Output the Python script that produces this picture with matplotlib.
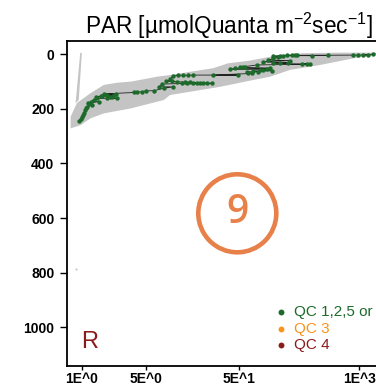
import numpy as np
import matplotlib
matplotlib.use("Agg")
import matplotlib.pyplot as plt
from matplotlib.patches import Circle

plt.rcParams['font.family'] = ['Liberation Sans', 'DejaVu Sans']
plt.rcParams['mathtext.fontset'] = 'custom'
plt.rcParams['mathtext.rm'] = 'Liberation Sans'
plt.rcParams['mathtext.it'] = 'Liberation Sans'

# grey cloud of all profiles (outline of the band)
band_par = [0.76, 0.89, 1.25, 1.74, 2.41, 3.39, 4.72, 6.52, 9.01, 14.8, 26.3, 38.2,
            66.1, 109, 139, 247, 576, 1520, 3000,
            3000, 1520, 857, 378, 179, 109, 71.3, 31.3, 14.8, 9.01, 7.76, 3.39,
            1.74, 1.25, 0.975, 0.76]
band_depth = [229, 179, 143, 113, 105, 101, 92, 83, 77, 65, 52, 34,
              24, 10, 4, -3, -5, -5, -5,
              6, 4, 16, 40, 58, 83, 95, 120, 138, 150, 168, 199,
              217, 235, 260, 272]

# thin dark profile near PAR = 1
spike_par = [0.965, 1.005, 0.93, 0.86]
spike_depth = [-4, -4, 168, 180]

outlier_par = [0.86]
outlier_depth = [786]

# highlighted profile (QC 1,2,5 or 8)
prof_par = [0.935, 1.01, 1.06, 1.10, 1.15, 1.17, 1.29, 1.25, 1.36, 1.42, 1.47, 1.54,
            1.60, 1.74, 1.89, 1.88, 2.14, 2.33, 2.43, 3.68, 3.99, 4.52, 4.92, 6.05,
            7.76, 6.85, 7.43, 8.09, 9.01, 9.78, 11.1, 12.5, 14.2, 16.1, 26.1, 9.40,
            10.6, 12.1, 13.6, 16.1, 19.0, 22.5, 25.4, 9.78, 40.1, 45.4, 51.4, 58.2,
            49.3, 60.8, 68.9, 81.1, 91.9, 109, 78, 91.9, 104, 118, 133, 118, 139,
            165, 186, 211, 306, 463, 864, 977, 1107, 1254, 1420, 118, 139, 171,
            179, 239, 271, 294, 113, 0.98, 1.03, 1.12, 1.2, 1.65, 2.0, 2.25,
            13.0, 15.0, 17.5, 20.5, 55, 63, 72, 85, 100, 150, 200]
prof_depth = [245, 229, 216, 205, 193, 179, 186, 174, 168, 156, 162, 174,
              154, 146, 150, 161, 156, 146, 162, 140, 140, 138, 135, 134,
              125, 120, 110, 98, 92, 80, 78, 78, 78, 77, 77, 98,
              101, 105, 107, 107, 107, 107, 107, 120, 56, 52, 49, 46,
              77, 65, 71, 65, 58, 52, 40, 28, 22, 16, 12, 7, 6,
              5, 5, 5, 6, 5, 4, 4, 3, 3, 1, 34, 32, 32,
              24, 37, 37, 37, 61, 238, 222, 198, 184, 152, 158, 150,
              103, 104, 106, 105, 48, 68, 62, 60, 56, 6, 5]

xticks = [1, 5, 50, 1000]
xticklabels = ['1E^0', '5E^0', '5E^1', '1E^3']
yticks = [0, 200, 400, 600, 800, 1000]

legend_labels = ['QC 1,2,5 or', 'QC 3', 'QC 4']
legend_colors = ['#1c6b2a', '#f7941d', '#8b1a1a']

fig = plt.figure(figsize=(3.76, 3.85), dpi=100)
ax = fig.add_axes([0.178, 0.0494, 0.862, 0.844])

ax.fill(band_par, band_depth, color='#c4c4c4', lw=0)
ax.fill(spike_par, spike_depth, color='#c4c4c4', lw=0)
ax.scatter(outlier_par, outlier_depth, s=2, color='#bebebe', lw=0)

order = np.argsort(prof_depth)
px = np.array(prof_par)[order]
pd_ = np.array(prof_depth)[order]
ax.plot(px, pd_, color='#222222', lw=0.6, zorder=3)
ax.scatter(prof_par, prof_depth, s=10, color=legend_colors[0], lw=0, zorder=4)

ax.set_xscale('log')
ax.set_xlim(0.693, 2208)
ax.set_ylim(1141, -47.5)
ax.set_xticks(xticks)
ax.set_xticklabels(xticklabels)
ax.minorticks_off()
ax.set_yticks(yticks)
for lab in ax.get_xticklabels() + ax.get_yticklabels():
    lab.set_fontweight('bold')
    lab.set_fontsize(10)
ax.tick_params(axis='x', length=3, pad=1, width=1)
ax.tick_params(axis='y', length=5, pad=4, width=1)
for sp in ax.spines.values():
    sp.set_linewidth(1.3)

ax.set_title('PAR [µmolQuanta m$^{-2}$sec$^{-1}$]', fontsize=16.3, pad=4)

handles = [ax.scatter([], [], s=18, color=c, lw=0) for c in legend_colors]
leg = ax.legend(handles, legend_labels, loc='upper left', bbox_to_anchor=(0.643, 0.188),
                frameon=False, fontsize=11, handlelength=0.8, handletextpad=0.45,
                borderpad=0, borderaxespad=0, labelspacing=0.18)
for t, c in zip(leg.get_texts(), legend_colors):
    t.set_color(c)

ax.text(0.043, 0.055, 'R', transform=ax.transAxes, fontsize=17, color='#8b1a1a',
        va='baseline')

# circled number badge
fig.add_artist(Circle((2.373, 1.717), 0.39, transform=fig.dpi_scale_trans,
                      fill=False, ec='#e8804a', lw=3.3))
fig.text(2.373 / 3.76, 1.717 / 3.85, '9', fontsize=28, color='#e8804a',
         ha='center', va='center', family='Open Sans', fontweight='semibold')

fig.savefig('out.png', dpi=100)
